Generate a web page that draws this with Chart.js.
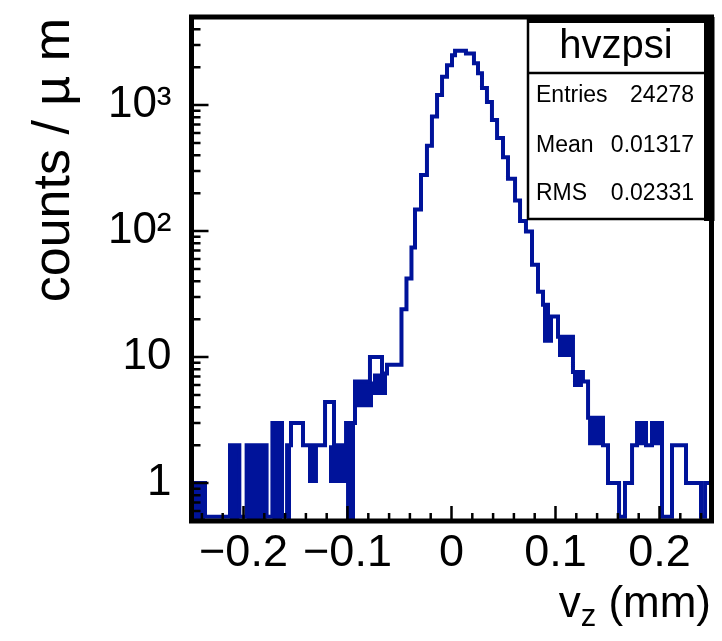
<!DOCTYPE html>
<html>
<head>
<meta charset="utf-8">
<title>hvzpsi</title>
<script src="https://cdn.jsdelivr.net/npm/chart.js@4.4.1/dist/chart.umd.min.js"></script>
<style>
html,body{margin:0;padding:0;background:#ffffff;}
#box{position:relative;width:722px;height:641px;}
canvas{display:block;}
</style>
</head>
<body>
<div id="box"><canvas id="chart" width="722" height="641"></canvas></div>
<script>
// ---------------- data ----------------
// histogram segment edges along v_z (mm)
const binEdges = [
  -0.2500, -0.2370, -0.2130, -0.2040, -0.1970, -0.1778, -0.1722, -0.1630, -0.1581, -0.1543,
  -0.1428, -0.1380, -0.1284, -0.1216, -0.1178, -0.1130, -0.1014, -0.0928, -0.0784, -0.0755,
  -0.0668, -0.0620, -0.0481, -0.0433, -0.0385, -0.0351, -0.0293, -0.0236, -0.0188, -0.0139,
  -0.0091, -0.0043,  0.0005,  0.0034,  0.0139,  0.0216,  0.0255,  0.0293,  0.0341,  0.0389,
   0.0438,  0.0495,  0.0543,  0.0611,  0.0659,  0.0716,  0.0774,  0.0832,  0.0880,  0.0928,
   0.0976,  0.1024,  0.1168,  0.1264,  0.1313,  0.1457,  0.1505,  0.1611,  0.1668,  0.1736,
   0.1784,  0.1870,  0.1928,  0.2024,  0.2120,  0.2255,  0.2399,  0.2438,  0.2500
];
// counts / um in each segment (outline of the histogram)
const counts = [
  1, 0, 2, 0, 2, 0, 3, 0, 2, 3,
  2, 2, 2, 4.4, 4.4, 2, 3, 6.4, 10, 10,
  7.4, 8.7, 24, 42, 74, 148, 278, 475, 810, 1200,
  1680, 2070, 2490, 2700, 2570, 2150, 1790, 1365, 1056, 760,
  547, 386, 260, 175, 120, 99, 54, 33, 26, 21,
  21, 14.5, 7.6, 6.4, 3.3, 2, 1, 0, 1, 2,
  3, 2, 3, 0, 2, 1, 0, 1
];
// where fine bins alternate quickly the outline looks solid: lower / upper level of that band
const bandLow = [
  0, null, 0, null, 0, null, 0, null, 0, null,
  null, 1, null, null, 1, 1, 0, 4, 4, 5,
  5, null, null, null, null, null, null, null, null, null,
  null, null, null, null, null, null, null, null, null, null,
  null, null, null, null, null, null, null, null, 13, 13,
  null, 10, 5.8, null, 2, null, null, null, null, null,
  2, null, 2, null, null, null, null, null
];
const bandHigh = [
  1, null, 2, null, 2, null, 3, null, 2, null,
  null, 2, null, null, 2, 2, 3, 6.4, 6.4, 7.4,
  7.4, null, null, null, null, null, null, null, null, null,
  null, null, null, null, null, null, null, null, null, null,
  null, null, null, null, null, null, null, null, 26, 21,
  null, 14.5, 7.6, null, 3.3, null, null, null, null, null,
  3, null, 3, null, null, null, null, null
];
const xTickValues = [-0.2, -0.1, 0, 0.1, 0.2];
const xTickLabels = ['\u22120.2', '\u22120.1', '0', '0.1', '0.2'];
const yTickValues = [1, 10, 100, 1000];
const yTickLabels = ['1', '10', '10\u00B2', '10\u00B3'];
const statsName = 'hvzpsi';
const statsLabels = ['Entries', 'Mean', 'RMS'];
const statsValues = ['24278', '0.01317', '0.02331'];
const yTitle = 'counts / \u00B5 m';
const xTitleMain = 'v';
const xTitleSub = 'z';
const xTitleUnit = ' (mm)';

// ---------------- drawing ----------------
const X_MIN = -0.25, X_MAX = 0.25, Y_MIN = 0.5, Y_MAX = 5000;
const ZERO_LEVEL = 0.54;           // empty bins are drawn at the bottom of the frame
const BLUE = '#00139a';
const FONT = "'Liberation Sans', Arial, Helvetica, sans-serif";

function lineLevel(c) { return c > 0 ? c : ZERO_LEVEL; }
function bandLevel(c) { return c > 0 ? c : Y_MIN; }
function steps(vals, mapFn) {
  const pts = vals.map((v, i) => ({ x: binEdges[i], y: mapFn(v) }));
  pts.push({ x: binEdges[binEdges.length - 1], y: mapFn(vals[vals.length - 1]) });
  return pts;
}
const bandTopVals = bandHigh.map(v => v === null ? Y_MIN : v);
const bandBotVals = bandLow.map((v, i) => bandHigh[i] === null ? Y_MIN : v);

const rootDecor = {
  id: 'rootDecor',
  afterDraw(chart) {
    const ctx = chart.ctx, a = chart.chartArea, xs = chart.scales.x, ys = chart.scales.y;
    ctx.save();
    ctx.strokeStyle = '#000';
    ctx.lineCap = 'butt';
    // x ticks (inside the frame)
    ctx.lineWidth = 2.5;
    ctx.beginPath();
    for (let i = -12; i <= 12; i++) {
      const px = xs.getPixelForValue(i * 0.02);
      const len = (i % 5 === 0) ? 15 : 8;
      ctx.moveTo(px, a.bottom); ctx.lineTo(px, a.bottom - len);
    }
    // y ticks
    [0.1, 1, 10, 100, 1000].forEach(d => {
      for (let k = 1; k <= 9; k++) {
        const v = d * k;
        if (v < Y_MIN || v > Y_MAX) continue;
        const py = ys.getPixelForValue(v);
        const len = k === 1 ? 17 : 9;
        ctx.moveTo(a.left, py); ctx.lineTo(a.left + len, py);
      }
    });
    ctx.stroke();
    // frame
    ctx.lineWidth = 5;
    ctx.strokeRect(a.left, a.top, a.right - a.left, a.bottom - a.top);

    // stats box
    const bx0 = 528, bx1 = 704, by0 = a.top + 2, by1 = 219, sep = 73;
    ctx.fillStyle = '#000';
    ctx.fillRect(bx1, a.top, a.right + 3 - bx1, by1 + 2 - a.top);
    ctx.fillRect(bx0 - 1, a.top - 2, a.right + 3 - bx0, 8);
    ctx.fillStyle = '#fff';
    ctx.fillRect(bx0, by0 + 4, bx1 - bx0, by1 - by0 - 4);
    ctx.lineWidth = 2.5;
    ctx.beginPath();
    ctx.moveTo(bx0, by0); ctx.lineTo(bx0, by1); ctx.lineTo(bx1, by1);
    ctx.moveTo(bx0, sep); ctx.lineTo(bx1, sep);
    ctx.stroke();
    ctx.fillStyle = '#000';
    ctx.font = '40px ' + FONT;
    ctx.textAlign = 'center'; ctx.textBaseline = 'alphabetic';
    ctx.fillText(statsName, (bx0 + bx1) / 2, 58);
    ctx.font = '23px ' + FONT;
    const rowBase = [102, 152, 200];
    statsLabels.forEach((lab, i) => {
      ctx.textAlign = 'left'; ctx.fillText(lab, bx0 + 8, rowBase[i]);
      ctx.textAlign = 'right'; ctx.fillText(statsValues[i], bx1 - 10, rowBase[i]);
    });

    // y axis title (rotated)
    ctx.save();
    ctx.translate(69, a.top + 1);
    ctx.rotate(-Math.PI / 2);
    ctx.font = '52px ' + FONT;
    ctx.textAlign = 'right'; ctx.textBaseline = 'alphabetic';
    ctx.fillText(yTitle, 0, 0);
    ctx.restore();

    // x axis title with subscript
    ctx.font = '44px ' + FONT;
    const wMain = ctx.measureText(xTitleMain).width;
    const wUnit = ctx.measureText(xTitleUnit).width;
    ctx.font = '31px ' + FONT;
    const wSub = ctx.measureText(xTitleSub).width;
    const xEnd = 711, base = 617;
    let xs0 = xEnd - wUnit - wSub - wMain;
    ctx.textAlign = 'left';
    ctx.font = '44px ' + FONT; ctx.fillText(xTitleMain, xs0, base);
    ctx.font = '31px ' + FONT; ctx.fillText(xTitleSub, xs0 + wMain, base + 9);
    ctx.font = '44px ' + FONT; ctx.fillText(xTitleUnit, xs0 + wMain + wSub, base);
    ctx.restore();
  }
};

new Chart(document.getElementById('chart'), {
  type: 'line',
  data: {
    datasets: [
      {
        label: 'hvzpsi',
        data: steps(counts, lineLevel),
        stepped: 'before',
        borderColor: BLUE,
        borderWidth: 4,
        borderJoinStyle: 'miter',
        pointRadius: 0,
        fill: false
      },
      {
        label: 'bandTop',
        data: steps(bandTopVals, bandLevel),
        stepped: 'before',
        borderWidth: 0,
        borderColor: 'rgba(0,0,0,0)',
        pointRadius: 0,
        fill: false
      },
      {
        label: 'bandBottom',
        data: steps(bandBotVals, bandLevel),
        stepped: 'before',
        borderWidth: 0,
        borderColor: 'rgba(0,0,0,0)',
        backgroundColor: BLUE,
        pointRadius: 0,
        fill: '-1'
      }
    ]
  },
  options: {
    responsive: false,
    animation: false,
    events: [],
    layout: { padding: { left: 0, right: 10.5, top: 17, bottom: 0 } },
    plugins: { legend: { display: false }, tooltip: { enabled: false }, title: { display: false } },
    scales: {
      x: {
        type: 'linear', min: X_MIN, max: X_MAX,
        grid: { display: false, drawTicks: false },
        border: { display: false },
        afterBuildTicks: s => { s.ticks = xTickValues.map(v => ({ value: v })); },
        afterFit: s => { s.height = 120; s.paddingLeft = 0; s.paddingRight = 0; },
        ticks: {
          autoSkip: false, maxRotation: 0, padding: 6, color: '#000',
          font: { family: FONT, size: 45 },
          callback: (v) => { const i = xTickValues.findIndex(t => Math.abs(t - v) < 1e-9); return i >= 0 ? xTickLabels[i] : ''; }
        }
      },
      y: {
        type: 'logarithmic', min: Y_MIN, max: Y_MAX,
        grid: { display: false, drawTicks: false },
        border: { display: false },
        afterBuildTicks: s => { s.ticks = yTickValues.map(v => ({ value: v })); },
        afterFit: s => { s.width = 191.5; s.paddingTop = 0; s.paddingBottom = 0; },
        ticks: {
          autoSkip: false, padding: 20, color: '#000',
          font: { family: FONT, size: 44 },
          callback: (v) => { const i = yTickValues.findIndex(t => Math.abs(t - v) < 1e-9 * t); return i >= 0 ? yTickLabels[i] : ''; }
        }
      }
    }
  },
  plugins: [rootDecor]
});
</script>
</body>
</html>
